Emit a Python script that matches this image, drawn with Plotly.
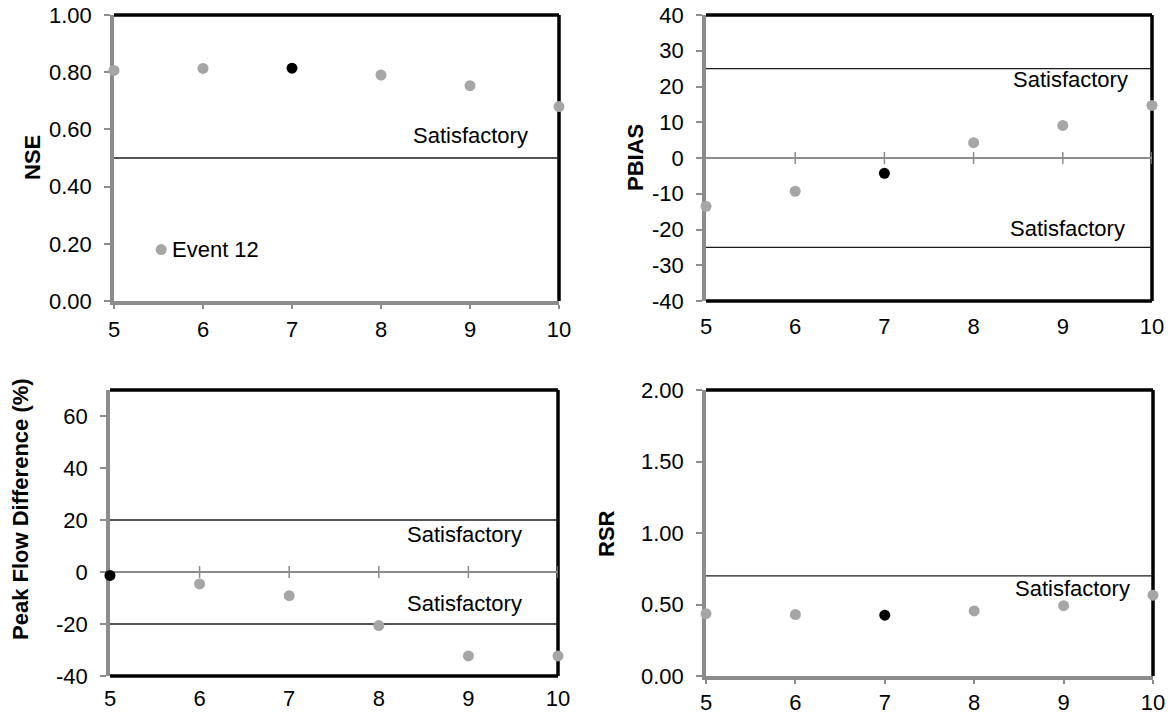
import plotly.graph_objects as go

# ---------------- data ----------------
x_vals = [5, 6, 7, 8, 9, 10]
nse = [0.806, 0.813, 0.814, 0.790, 0.753, 0.680]
pbias = [-13.5, -9.3, -4.3, 4.3, 9.1, 14.7]
peak = [-1.3, -4.6, -9.1, -20.6, -32.3, -32.3]
rsr = [0.436, 0.430, 0.425, 0.455, 0.492, 0.565]

# index of the highlighted (black) point in each panel
nse_hi, pbias_hi, peak_hi, rsr_hi = 2, 2, 0, 2

event12_x = [5.53]
event12_y = [0.18]
event12_label = "Event 12"

nse_sat = [0.5]
pbias_sat = [25, -25]
peak_sat = [20, -20]
rsr_sat = [0.7]

nse_lbl = [(9.0, 0.578)]
pbias_lbl = [(9.09, 21.9), (9.05, -19.6)]
peak_lbl = [(8.96, 14.5), (8.96, -12.0)]
rsr_lbl = [(9.10, 0.61)]

titles = ["NSE", "PBIAS", "Peak Flow Difference (%)", "RSR"]

nse_ticks = [0, 0.2, 0.4, 0.6, 0.8, 1.0]
pbias_ticks = [-40, -30, -20, -10, 0, 10, 20, 30, 40]
peak_ticks = [-40, -20, 0, 20, 40, 60]
rsr_ticks = [0, 0.5, 1.0, 1.5, 2.0]

# ---------------- style ----------------
FONT = "Arial, 'Liberation Sans', sans-serif"
GRAY_PT = "#a6a6a6"
AXIS_GRAY = "#8c8c8c"
W, H = 1173, 715
FS = 22


def fmt2(v):
    return f"{v:.2f}"


def fmtd(v):
    return f"{v:d}"


panels = [
    dict(y=nse, hi=nse_hi, sat=nse_sat, lbl=nse_lbl, ticks=nse_ticks, rng=[0, 1.0], fmt=fmt2,
         xd=[114 / W, 559 / W], yd=[1 - 301 / H, 1 - 15 / H], zero=False, title_xy=(32, 158),
         xstand=2),
    dict(y=pbias, hi=pbias_hi, sat=pbias_sat, lbl=pbias_lbl, ticks=pbias_ticks, rng=[-40, 40], fmt=fmtd,
         xd=[706 / W, 1152 / W], yd=[1 - 301 / H, 1 - 15 / H], zero=True, title_xy=(635, 158),
         xstand=10),
    dict(y=peak, hi=peak_hi, sat=peak_sat, lbl=peak_lbl, ticks=peak_ticks, rng=[-40, 70], fmt=fmtd,
         xd=[110 / W, 558 / W], yd=[1 - 676 / H, 1 - 390 / H], zero=True, title_xy=(20, 509),
         xstand=7),
    dict(y=rsr, hi=rsr_hi, sat=rsr_sat, lbl=rsr_lbl, ticks=rsr_ticks, rng=[0, 2.0], fmt=fmt2,
         xd=[706 / W, 1153 / W], yd=[1 - 676 / H, 1 - 390 / H], zero=False, title_xy=(606, 534),
         xstand=0),
]

fig = go.Figure()
shapes = []
annotations = []
layout_axes = {}

for i, p in enumerate(panels):
    n = "" if i == 0 else str(i + 1)
    xa, ya = "x" + n, "y" + n
    xs_g = [x for j, x in enumerate(x_vals) if j != p["hi"]]
    ys_g = [y for j, y in enumerate(p["y"]) if j != p["hi"]]
    if i == 0:
        xs_g = xs_g + event12_x
        ys_g = ys_g + event12_y
    fig.add_trace(go.Scatter(x=xs_g, y=ys_g, mode="markers", xaxis=xa, yaxis=ya,
                             marker=dict(color=GRAY_PT, size=11), cliponaxis=False,
                             showlegend=False, hoverinfo="x+y"))
    fig.add_trace(go.Scatter(x=[x_vals[p["hi"]]], y=[p["y"][p["hi"]]], mode="markers",
                             xaxis=xa, yaxis=ya, marker=dict(color="black", size=11),
                             cliponaxis=False, showlegend=False, hoverinfo="x+y"))

    layout_axes["xaxis" + n] = dict(
        domain=p["xd"], anchor=ya, range=[5, 10], tickvals=x_vals,
        ticktext=[str(v) for v in x_vals],
        showline=not p["zero"], linecolor=AXIS_GRAY, linewidth=3.5,
        ticks="" if p["zero"] else "outside", ticklen=4, tickwidth=1.5, tickcolor=AXIS_GRAY,
        showgrid=False, zeroline=False, layer="below traces",
        tickfont=dict(family=FONT, size=FS, color="black"),
        ticklabelstandoff=p["xstand"],
    )
    layout_axes["yaxis" + n] = dict(
        domain=p["yd"], anchor=xa, range=p["rng"], tickvals=p["ticks"],
        ticktext=[p["fmt"](v) for v in p["ticks"]],
        showline=True, linecolor=AXIS_GRAY, linewidth=3.5,
        ticks="outside", ticklen=6, tickwidth=1.5, tickcolor=AXIS_GRAY,
        showgrid=False, zeroline=p["zero"], zerolinecolor=AXIS_GRAY, zerolinewidth=2,
        layer="below traces",
        tickfont=dict(family=FONT, size=FS, color="black"),
        ticklabelstandoff=8,
    )

    xd_ref, yd_ref = xa + " domain", ya + " domain"
    # black top and right frame
    shapes.append(dict(type="line", xref=xd_ref, yref=yd_ref, x0=0, x1=1, y0=1, y1=1,
                       line=dict(color="black", width=3.5), layer="below"))
    shapes.append(dict(type="line", xref=xd_ref, yref=yd_ref, x0=1, x1=1, y0=0, y1=1,
                       line=dict(color="black", width=3.5), layer="below"))
    if p["zero"]:
        shapes.append(dict(type="line", xref=xd_ref, yref=yd_ref, x0=0, x1=1, y0=0, y1=0,
                           line=dict(color="black", width=3.5), layer="below"))
        for xv in x_vals[1:]:
            shapes.append(dict(type="line", xref=xa, yref=ya, xsizemode="scaled",
                               ysizemode="pixel", yanchor=0, x0=xv, x1=xv, y0=-6, y1=6,
                               line=dict(color=AXIS_GRAY, width=1.5), layer="below"))
    for s in p["sat"]:
        shapes.append(dict(type="line", xref=xd_ref, yref=ya, x0=0, x1=1, y0=s, y1=s,
                           line=dict(color="#1a1a1a", width=1.3), layer="below"))
    for (lx, ly) in p["lbl"]:
        annotations.append(dict(x=lx, y=ly, xref=xa, yref=ya, text="Satisfactory",
                                showarrow=False, xanchor="center", yanchor="middle",
                                font=dict(family=FONT, size=FS, color="black")))
    tx, ty = p["title_xy"]
    annotations.append(dict(x=tx / W, y=1 - ty / H, xref="paper", yref="paper",
                            xanchor="center", yanchor="middle",
                            text="<b>" + titles[i] + "</b>", textangle=-90, showarrow=False,
                            font=dict(family=FONT, size=22, color="black")))

annotations.append(dict(x=event12_x[0], y=event12_y[0], xref="x", yref="y", text=event12_label,
                        xanchor="left", yanchor="middle", xshift=9, showarrow=False,
                        font=dict(family=FONT, size=FS, color="black")))

fig.update_layout(
    width=W, height=H, margin=dict(l=0, r=0, t=0, b=0, autoexpand=False),
    paper_bgcolor="white", plot_bgcolor="white",
    shapes=shapes, annotations=annotations, showlegend=False,
    **layout_axes,
)

fig.write_html("out.html", config={"displayModeBar": False},
               post_script="document.body.style.margin='0';document.body.style.overflow='hidden';")
